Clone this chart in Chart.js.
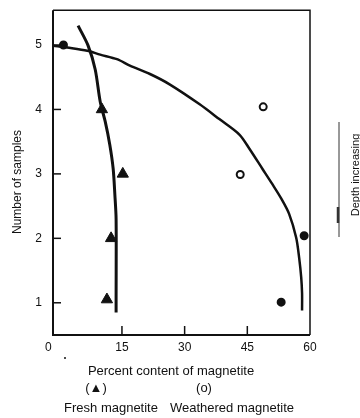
<!DOCTYPE html>
<html>
<head>
<meta charset="utf-8">
<script src="https://cdn.jsdelivr.net/npm/chart.js@4"></script>
<style>
  html, body { margin: 0; padding: 0; background: #fff; }
  #wrap { width: 360px; height: 418px; }
</style>
</head>
<body>
<div id="wrap"><canvas id="myChart" width="360" height="418"></canvas></div>
<script>
// values
const xTicks = [0, 15, 30, 45, 60];
const yTicks = [1, 2, 3, 4, 5];

const freshX = [10.2, 15.2, 12.4, 11.4];
const freshY = [4.0, 3.0, 2.0, 1.05];

const weatheredX = [1.0, 48.8, 43.3, 58.6, 53.1];
const weatheredY = [5.0, 4.04, 2.99, 2.04, 1.01];
const weatheredFilled = [true, false, false, true, true];

const freshCurveX = [4.5, 6.9, 8.6, 9.8, 11.0, 12.1, 12.9, 13.3, 13.6, 13.6, 13.6];
const freshCurveY = [5.3, 4.99, 4.62, 4.12, 3.81, 3.45, 3.08, 2.68, 2.3, 1.04, 0.85];

const weatheredCurveX = [-1.4, 1.9, 6.7, 9.8, 13.8, 16.9, 21.7, 26.4, 33.6, 38.3, 43.1, 45.5, 48.6, 51.0, 53.1, 55.0, 56.7, 57.4, 57.9, 58.1, 58.1];
const weatheredCurveY = [4.99, 4.96, 4.91, 4.85, 4.78, 4.68, 4.55, 4.39, 4.08, 3.85, 3.61, 3.39, 3.08, 2.84, 2.62, 2.38, 2.01, 1.70, 1.39, 1.15, 0.88];

const toPts = (xs, ys) => xs.map((x, i) => ({ x: x, y: ys[i] }));

const FONT = "'Liberation Sans', Arial, sans-serif";

const extras = {
  id: "extras",
  afterDraw(chart) {
    const { ctx, chartArea: a, scales } = chart;
    ctx.save();
    ctx.strokeStyle = "#111";
    // frame
    ctx.lineWidth = 2;
    ctx.beginPath();
    ctx.moveTo(a.left, a.top);
    ctx.lineTo(a.left, a.bottom);
    ctx.lineTo(a.right, a.bottom);
    ctx.stroke();
    ctx.lineWidth = 1.5;
    ctx.beginPath();
    ctx.moveTo(a.left, a.top);
    ctx.lineTo(a.right, a.top);
    ctx.lineTo(a.right, a.bottom);
    ctx.stroke();
    // inner ticks
    ctx.lineWidth = 1.5;
    yTicks.forEach(v => {
      const py = scales.y.getPixelForValue(v);
      ctx.beginPath();
      ctx.moveTo(a.left, py);
      ctx.lineTo(a.left + 8, py);
      ctx.stroke();
    });
    xTicks.slice(1, 4).forEach(v => {
      const px = scales.x.getPixelForValue(v);
      ctx.beginPath();
      ctx.moveTo(px, a.bottom);
      ctx.lineTo(px, a.bottom - 9);
      ctx.stroke();
    });

    ctx.fillStyle = "#111";
    ctx.textAlign = "center";
    ctx.textBaseline = "middle";
    // x tick labels
    ctx.font = "12px " + FONT;
    xTicks.forEach(v => {
      const px = scales.x.getPixelForValue(v) + (v === 0 ? -11 : 0);
      ctx.fillText(String(v), px, 348);
    });

    ctx.font = "13px " + FONT;
    ctx.fillText("Percent content of magnetite", 171, 371);
    ctx.fillText("(\u25B2)", 96, 388);
    ctx.fillText("(o)", 204, 388);
    ctx.fillText("Fresh magnetite", 111, 408);
    ctx.fillText("Weathered magnetite", 232, 408);
    ctx.beginPath();
    ctx.arc(65, 358, 1, 0, Math.PI * 2);
    ctx.fill();

    // y axis title
    ctx.save();
    ctx.translate(18, 182);
    ctx.rotate(-Math.PI / 2);
    ctx.font = "12px " + FONT;
    ctx.fillText("Number of samples", 0, 0);
    ctx.restore();

    // depth arrow
    ctx.lineWidth = 1;
    ctx.strokeStyle = "#333";
    ctx.beginPath();
    ctx.moveTo(339, 122);
    ctx.lineTo(339, 237);
    ctx.stroke();
    ctx.lineWidth = 2.5;
    ctx.beginPath();
    ctx.moveTo(338, 207);
    ctx.lineTo(338, 223);
    ctx.stroke();
    ctx.save();
    ctx.translate(356, 175);
    ctx.rotate(-Math.PI / 2);
    ctx.font = "11px " + FONT;
    ctx.fillText("Depth increasing", 0, 0);
    ctx.restore();
    ctx.restore();
  }
};

const ctx = document.getElementById("myChart").getContext("2d");
const myChart = new Chart(ctx, {
  type: "scatter",
  data: {
    datasets: [
      {
        label: "Fresh curve",
        data: toPts(freshCurveX, freshCurveY),
        showLine: true,
        borderColor: "#111",
        borderWidth: 3,
        pointRadius: 0,
        tension: 0.3,
      },
      {
        label: "Weathered curve",
        data: toPts(weatheredCurveX, weatheredCurveY),
        showLine: true,
        borderColor: "#111",
        borderWidth: 2.5,
        pointRadius: 0,
        tension: 0.3,
      },
      {
        label: "Fresh magnetite",
        data: toPts(freshX, freshY),
        pointStyle: "triangle",
        pointRadius: 6.5,
        backgroundColor: "#111",
        borderColor: "#111",
      },
      {
        label: "Weathered magnetite",
        data: toPts(weatheredX, weatheredY),
        pointStyle: "circle",
        pointRadius: 3.5,
        borderWidth: 2,
        borderColor: "#111",
        backgroundColor: weatheredFilled.map(f => f ? "#111" : "#fff"),
      },
    ],
  },
  options: {
    responsive: false,
    animation: false,
    layout: { padding: { top: 8, right: 50, left: 0, bottom: 0 } },
    plugins: { legend: { display: false }, tooltip: { enabled: false } },
    scales: {
      x: {
        type: "linear",
        min: -1.5,
        max: 60,
        afterBuildTicks: s => { s.ticks = xTicks.map(v => ({ value: v })); },
        afterFit: s => { s.height = 83; },
        grid: { display: false },
        border: { display: false },
        ticks: { display: false },
      },
      y: {
        type: "linear",
        min: 0.5,
        max: 5.54,
        afterBuildTicks: s => { s.ticks = yTicks.map(v => ({ value: v })); },
        afterFit: s => { s.width = 53; },
        grid: { display: false },
        border: { display: false },
        ticks: { color: "#111", font: { family: FONT, size: 12 }, padding: 3 },
      },
    },
  },
  plugins: [extras],
});
</script>
</body>
</html>
